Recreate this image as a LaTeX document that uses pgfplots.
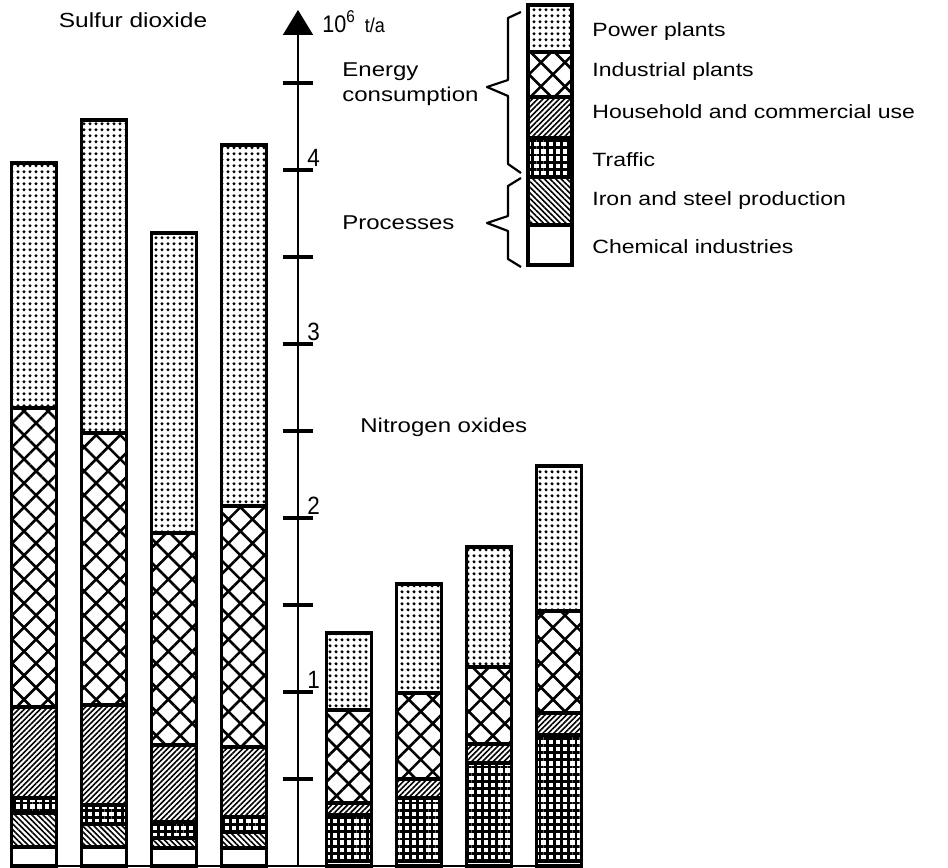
\documentclass[border=0pt]{standalone}
\usepackage{fontspec}
\setmainfont{Liberation Sans}[FakeStretch=1.2]
\newfontfamily\numfont{Liberation Sans}[FakeStretch=0.9]
\usepackage{pgfplots}
\pgfplotsset{compat=1.18}
\usetikzlibrary{patterns.meta, arrows.meta}

% segment styles, shared by the bars and the key
\tikzset{
  seg/.style={draw=black, line width=1.8pt},
  power/.style={seg, pattern={Dots[distance=3pt, radius=0.85pt]}},
  industry/.style={seg, pattern={Hatch[angle=45, distance=8.5pt, line width=1.3pt]}},
  household/.style={seg, pattern={Lines[angle=45, distance=1.9pt, line width=0.8pt]}},
  traffic/.style={seg, pattern={Hatch[angle=0, distance=3.6pt, line width=1.4pt]}},
  iron/.style={seg, pattern={Lines[angle=-45, distance=2pt, line width=0.8pt]}},
  chemical/.style={seg, fill=white},
  lab/.style={anchor=base west, inner sep=0pt, font=\fontsize{10}{12}\selectfont},
  keylab/.style={anchor=base west, inner sep=0pt, font=\fontsize{9.6}{11}\selectfont},
}

% position in pixels of the reference (origin top left)
\newcommand{\rpt}[2]{(axis cs:{(#1-298)/70},{(866-#2)/174})}

\begin{document}
\begin{tikzpicture}
\begin{axis}[
    x=35pt, y=87pt,
    xmin=-4.09, xmax=4.07,
    ymin=0, ymax=4.92,
    axis lines=center,
    x axis line style={-, line width=0.9pt},
    y axis line style={-{Triangle[width=15pt, length=12.5pt]}, line width=0.8pt},
    xtick=\empty,
    ytick={0.5,1,...,4.5},
    yticklabels={,1,,2,,3,,4,},
    major tick length=15pt,
    tick align=center,
    tick style={black, line width=1.6pt},
    yticklabel style={font=\numfont\fontsize{12.5}{12.5}\selectfont,
        anchor=south west, inner sep=0pt, xshift=12pt, yshift=1.5pt},
    ybar stacked,
    bar width=22.5pt,
    clip=false,
]
% SO2 bars at -3.77 .. -0.77, NOx bars at 0.73 .. 3.73
\addplot[chemical] coordinates {(-3.77,0.109) (-2.77,0.109) (-1.77,0.103) (-0.77,0.103)
    (0.73,0.03) (1.73,0.03) (2.73,0.03) (3.73,0.03)};
\addplot[iron] coordinates {(-3.77,0.196) (-2.77,0.132) (-1.77,0.058) (-0.77,0.092)
    (0.73,0) (1.73,0) (2.73,0) (3.73,0)};
\addplot[traffic] coordinates {(-3.77,0.086) (-2.77,0.110) (-1.77,0.092) (-0.77,0.087)
    (0.73,0.263) (1.73,0.36) (2.73,0.562) (3.73,0.723)};
\addplot[household] coordinates {(-3.77,0.523) (-2.77,0.574) (-1.77,0.442) (-0.77,0.402)
    (0.73,0.069) (1.73,0.11) (2.73,0.109) (3.73,0.126)};
\addplot[industry] coordinates {(-3.77,1.718) (-2.77,1.564) (-1.77,1.219) (-0.77,1.385)
    (0.73,0.535) (1.73,0.494) (2.73,0.443) (3.73,0.587)};
\addplot[power] coordinates {(-3.77,1.408) (-2.77,1.798) (-1.77,1.724) (-0.77,2.075)
    (0.73,0.443) (1.73,0.626) (2.73,0.689) (3.73,0.833)};

% picture frame
\path \rpt{0}{0} rectangle \rpt{948}{867};

% titles
\node[anchor=base, inner sep=0pt, font=\fontsize{10.2}{12}\selectfont] at \rpt{133}{28} {Sulfur dioxide};
\node[lab] at \rpt{360}{433} {Nitrogen oxides};
\node[anchor=base west, inner sep=0pt] at \rpt{322}{33}
    {\numfont\fontsize{12}{12}\selectfont 10\raisebox{5pt}{\fontsize{8.5}{9}\selectfont 6}\hspace{5pt}{\fontsize{10}{10}\selectfont t/a}};

% groups with braces
\node[lab] at \rpt{342}{77} {Energy};
\node[lab] at \rpt{342}{102} {consumption};
\node[lab] at \rpt{342}{230} {Processes};
\draw[line width=1.1pt, line join=round]
    \rpt{521}{12} -- \rpt{508}{18} -- \rpt{508}{80} -- \rpt{487}{87} -- \rpt{508}{96}
    -- \rpt{508}{164} -- \rpt{521}{173};
\draw[line width=1.1pt, line join=round]
    \rpt{521}{178} -- \rpt{508}{186} -- \rpt{508}{216} -- \rpt{487}{223} -- \rpt{508}{231}
    -- \rpt{508}{259} -- \rpt{521}{267};

% key
\draw[power]     \rpt{528}{5}   rectangle \rpt{572}{52};
\draw[industry]  \rpt{528}{52}  rectangle \rpt{572}{97};
\draw[household] \rpt{528}{97}  rectangle \rpt{572}{138};
\draw[traffic]   \rpt{528}{138} rectangle \rpt{572}{177};
\draw[iron]      \rpt{528}{177} rectangle \rpt{572}{225};
\draw[chemical]  \rpt{528}{225} rectangle \rpt{572}{265};
\node[keylab] at \rpt{592}{37}  {Power plants};
\node[keylab] at \rpt{592}{77}  {Industrial plants};
\node[keylab] at \rpt{592}{119} {Household and commercial use};
\node[keylab] at \rpt{592}{167} {Traffic};
\node[keylab] at \rpt{592}{206} {Iron and steel production};
\node[keylab] at \rpt{592}{254} {Chemical industries};
\end{axis}
\end{tikzpicture}
\end{document}
